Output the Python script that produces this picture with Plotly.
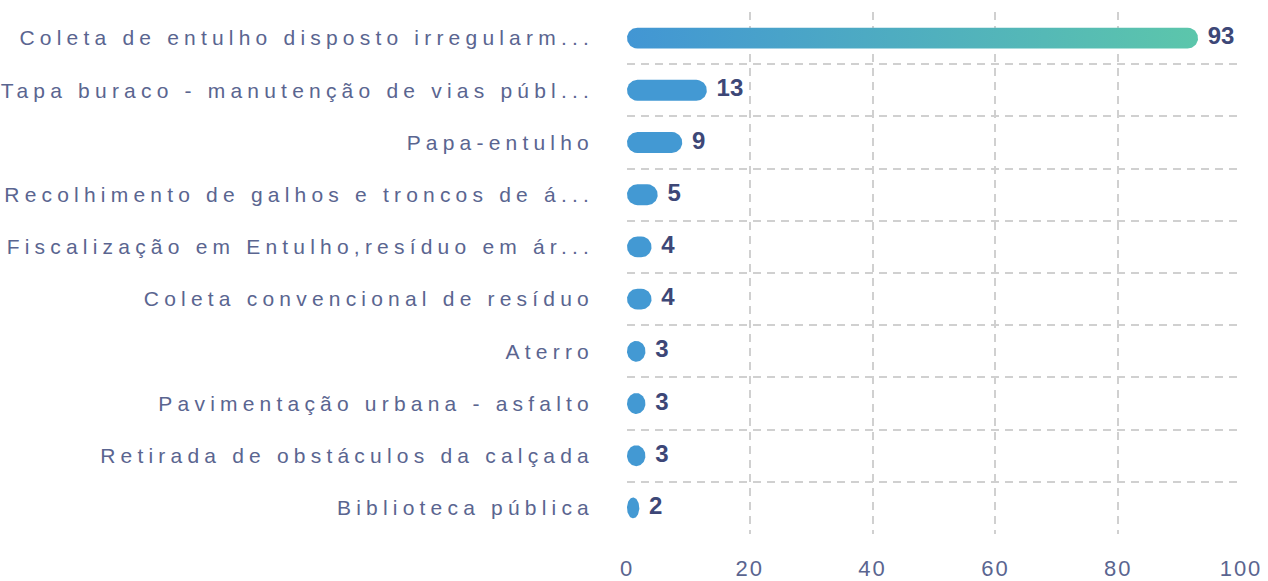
import plotly.graph_objects as go
import numpy as np

categories = [
    "Coleta de entulho disposto irregularm...",
    "Tapa buraco - manutenção de vias públ...",
    "Papa-entulho",
    "Recolhimento de galhos e troncos de á...",
    "Fiscalização em Entulho,resíduo em ár...",
    "Coleta convencional de resíduo",
    "Aterro",
    "Pavimentação urbana - asfalto",
    "Retirada de obstáculos da calçada",
    "Biblioteca pública",
]
values = [93, 13, 9, 5, 4, 4, 3, 3, 3, 2]
x_ticks = [0, 20, 40, 60, 80, 100]

BAR_BLUE = "#4399d3"
GRAD_START = "#4296d4"
GRAD_END = "#5cc6ab"
LABEL_COLOR = "#5a6590"
VALUE_COLOR = "#3d4777"
GRID = "#d0d0d0"

idx = list(range(len(categories)))
bar_width = 0.4

# plot area geometry (px) used to express the rounded caps in data units
ML, MR, MT, MB = 627, 27, 12, 47
plot_w_px = 1268 - ML - MR
plot_h_px = 581 - MT - MB
x_range = [0, 100]
y_range = [len(categories) - 0.5, -0.5]
px_per_x = plot_w_px / (x_range[1] - x_range[0])
px_per_y = plot_h_px / len(categories)


def pill(value, center, half_h):
    """Rounded (pill) outline of a horizontal bar from 0 to value, in data units."""
    r_px = half_h * px_per_y
    rx = min(r_px / px_per_x, value / 2)
    ry = half_h
    t = np.linspace(-np.pi / 2, np.pi / 2, 40)
    xr = (value - rx) + rx * np.cos(t)
    yr = center - ry * np.sin(t)
    xl = rx - rx * np.cos(t[::-1])
    yl = center - ry * np.sin(t[::-1])
    xs = list(xr) + list(xl)
    ys = list(yr) + list(yl)
    return xs + [xs[0]], ys + [ys[0]]


fig = go.Figure()

for i, v in enumerate(values):
    px_, py_ = pill(v, idx[i], bar_width / 2)
    if i == 0:
        fig.add_trace(go.Scatter(
            x=px_, y=py_, mode="lines", line=dict(width=0),
            fill="toself",
            fillgradient=dict(type="horizontal",
                              colorscale=[[0, GRAD_START], [1, GRAD_END]]),
            hoverinfo="skip", showlegend=False,
        ))
    else:
        fig.add_trace(go.Scatter(
            x=px_, y=py_, mode="lines", line=dict(width=0),
            fill="toself", fillcolor=BAR_BLUE,
            hoverinfo="skip", showlegend=False,
        ))

# value labels at the end of each bar
fig.add_trace(go.Scatter(
    x=values, y=idx, mode="markers+text",
    marker=dict(size=14, opacity=0),
    text=[str(v) for v in values],
    textposition="middle right",
    cliponaxis=False,
    textfont=dict(family="Liberation Sans, Arial, sans-serif", size=24,
                  color=VALUE_COLOR, weight="bold"),
    hoverinfo="skip", showlegend=False,
))

fig.update_layout(
    width=1268, height=581,
    margin=dict(l=ML, r=MR, t=MT, b=MB, autoexpand=False),
    paper_bgcolor="white", plot_bgcolor="white",
    xaxis=dict(
        range=x_range, tickvals=x_ticks, ticktext=[str(v) for v in x_ticks],
        showgrid=True, gridcolor=GRID, griddash="8px,6px", gridwidth=1.5,
        zeroline=False, showline=False,
        tickfont=dict(family="Liberation Sans, Arial, sans-serif", size=22, color=LABEL_COLOR),
        ticks="", ticklabelstandoff=19, automargin=False,
    ),
    yaxis=dict(
        range=y_range, tickvals=idx, ticktext=categories,
        showgrid=False, zeroline=False, showline=False,
        tickfont=dict(family="Liberation Sans, Arial, sans-serif", size=21, color=LABEL_COLOR),
        ticks="", ticklabelstandoff=32,
        minor=dict(tick0=0.5, dtick=1, showgrid=True, gridcolor=GRID,
                   griddash="8px,6px", gridwidth=1.5),
        automargin=False,
    ),
)

post = """
document.body.style.margin = '0';
var s = document.createElement('style');
s.innerHTML = '.ytick text{letter-spacing:5.2px;} .xtick text{letter-spacing:2px;}';
document.head.appendChild(s);
"""
fig.write_html("out.html", post_script=post, config={"displayModeBar": False})
